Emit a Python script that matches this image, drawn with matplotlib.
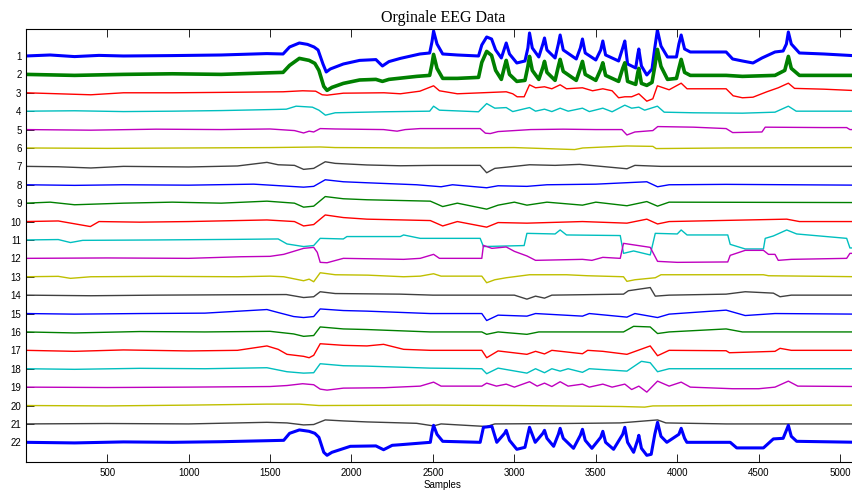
import numpy as np
import matplotlib
matplotlib.use("Agg")
import matplotlib.pyplot as plt

# 22 EEG channels, each given as (sample, amplitude) points.
# Amplitudes in uV, positive is up; channels are stacked SPACING apart.
SPACING = 92

ch01 = [(0, 0), (150, 5), (300, -3), (450, 3), (600, 0), (900, 2), (1200, 5), (1480, 12), (1580, 10),
        (1620, 45), (1680, 65), (1730, 58), (1770, 45), (1795, 30), (1825, -40), (1845, -80), (1870, -65),
        (1950, -40), (2050, -22), (2150, -18), (2190, -50), (2230, -28), (2300, -12), (2420, 10), (2480, 15),
        (2494, 70), (2504, 125), (2525, 60), (2560, 10), (2650, 5), (2780, 0), (2800, 55), (2830, 95),
        (2860, 85), (2885, 30), (2920, -10), (2940, 40), (2950, 65), (2970, 10), (3015, -35), (3065, -25),
        (3083, 40), (3093, 115), (3110, 40), (3150, -5), (3175, 60), (3185, 90), (3200, 30), (3250, -10),
        (3270, 60), (3281, 105), (3300, 30), (3380, -15), (3405, 40), (3418, 85), (3435, 15), (3500, -20),
        (3530, 30), (3543, 75), (3560, 5), (3640, -25), (3665, 40), (3678, 75), (3695, -40), (3745, -60),
        (3758, 10), (3764, 35), (3780, -50), (3813, -95), (3845, -65), (3862, 40), (3878, 130), (3900, 50),
        (3940, -5), (3995, -5), (4010, 60), (4024, 105), (4045, 35), (4080, 20), (4300, 20), (4340, -15),
        (4400, -25), (4465, -35), (4520, -10), (4600, 20), (4650, 25), (4670, 60), (4682, 120), (4700, 60),
        (4750, 15), (4900, 10), (5120, 0)]
ch02 = [(0, 0), (300, -5), (600, 0), (900, 3), (1200, 0), (1500, 8), (1580, 10), (1620, 45), (1680, 80),
        (1740, 70), (1775, 55), (1800, 20), (1830, -60), (1850, -80), (1880, -65), (1950, -45), (2050, -28),
        (2150, -25), (2190, -35), (2230, -25), (2400, -10), (2480, -5), (2494, 50), (2504, 100), (2525, 30),
        (2560, -20), (2650, -20), (2780, -15), (2800, 60), (2830, 115), (2860, 95), (2885, 20), (2920, -25),
        (2940, 40), (2950, 70), (2970, 0), (3015, -35), (3065, -30), (3083, 40), (3093, 90), (3110, 20),
        (3150, -25), (3175, 35), (3185, 65), (3200, 10), (3250, -30), (3270, 40), (3281, 75), (3300, 15),
        (3380, -30), (3405, 30), (3418, 65), (3435, 0), (3500, -30), (3530, 25), (3543, 58), (3560, -5),
        (3640, -35), (3665, 30), (3678, 58), (3695, -35), (3745, -50), (3758, 10), (3764, 30), (3780, -45),
        (3813, -55), (3845, -40), (3862, 40), (3878, 125), (3900, 40), (3940, -25), (3995, -20), (4010, 30),
        (4024, 75), (4045, 10), (4080, -5), (4300, -5), (4400, -10), (4600, -5), (4660, 20), (4682, 90),
        (4700, 30), (4750, -5), (5120, -5)]
ch03 = [(0, 0), (200, -5), (400, -10), (600, 0), (900, 0), (1200, 2), (1580, 5), (1700, 10), (1780, 8),
        (1820, -10), (1850, -12), (1950, -2), (2200, 0), (2300, -5), (2420, 8), (2504, 35), (2540, 10),
        (2650, -5), (2800, 0), (2950, 5), (2990, -5), (3017, -20), (3060, -20), (3093, 40), (3130, 25),
        (3185, 30), (3230, 20), (3281, 40), (3320, 20), (3418, 25), (3480, 10), (3543, 20), (3600, 10),
        (3640, -25), (3678, -20), (3720, -20), (3764, -5), (3813, -42), (3850, -30), (3878, 35), (3950, 15),
        (4024, 48), (4060, 20), (4300, 20), (4343, -15), (4400, -25), (4465, -22), (4550, 5), (4620, 25),
        (4682, 48), (4720, 22), (4900, 18), (5120, 10)]
ch04 = [(0, 0), (300, 2), (600, -2), (900, 0), (1200, 3), (1500, 8), (1600, 10), (1660, 25), (1760, 20),
        (1800, 5), (1840, -20), (1900, -8), (2200, -3), (2480, 0), (2504, 25), (2540, 5), (2780, -3),
        (2830, 38), (2880, 15), (2950, 18), (2990, -2), (3093, 18), (3130, 0), (3185, 10), (3230, -2),
        (3281, 15), (3330, 0), (3418, 15), (3460, -2), (3543, 15), (3600, -3), (3678, 30), (3720, 15),
        (3764, 20), (3800, 5), (3878, 25), (3920, -5), (4100, -8), (4400, -10), (4600, -5), (4682, 25),
        (4730, 0), (5120, 0)]
ch05 = [(0, 0), (400, -3), (800, 2), (1200, 0), (1500, 3), (1650, -5), (1706, -17), (1740, -8), (1768, -12),
        (1808, 5), (1900, 3), (2197, 0), (2280, -8), (2330, 0), (2422, 5), (2790, 5), (2822, -18), (2852, -20),
        (2900, -10), (3000, -5), (3100, 0), (3300, 2), (3500, 0), (3660, 0), (3691, -27), (3740, -12),
        (3850, -5), (3880, 15), (4100, 12), (4300, 5), (4340, -15), (4520, -12), (4540, 12), (4900, 10),
        (5040, 10), (5060, 0), (5120, 0)]
ch06 = [(0, 0), (500, -2), (1000, 0), (1500, 2), (1808, 5), (1900, 2), (2500, 0), (3000, 2), (3370, -8),
        (3420, 0), (3690, 10), (3850, 8), (3870, -3), (4300, 0), (5120, 2)]
ch07 = [(0, 0), (200, -2), (400, -8), (600, 0), (1000, -3), (1300, 2), (1481, 20), (1550, 8), (1650, 5),
        (1706, -15), (1768, -10), (1839, 23), (1900, 15), (2095, 7), (2300, 3), (2500, 5), (2790, 5),
        (2830, -32), (2880, -10), (3000, 0), (3093, 8), (3250, 5), (3400, 10), (3691, -12), (3740, 5),
        (3900, 0), (4300, 0), (5120, 0)]
ch08 = [(0, 0), (300, -3), (600, 0), (1000, -2), (1400, 3), (1706, -12), (1768, -8), (1839, 25), (1950, 15),
        (2095, 10), (2400, 0), (2550, -10), (2620, 0), (2830, -15), (2900, -5), (3077, -8), (3200, 0),
        (3500, 3), (3813, 15), (3879, -10), (3950, 0), (4300, 2), (5120, -2)]
ch09 = [(0, 0), (150, 5), (300, -8), (600, 0), (900, 5), (1200, 0), (1481, 10), (1650, 0), (1706, -20),
        (1768, -15), (1839, 33), (1950, 22), (2095, 17), (2484, 10), (2560, -17), (2650, 0), (2830, -30),
        (2900, -10), (3000, 5), (3077, -10), (3200, 5), (3418, -10), (3500, 5), (3691, -13), (3813, 8),
        (3879, -15), (3950, 5), (5120, 3)]
ch10 = [(0, 0), (200, 3), (397, -25), (450, 0), (700, -3), (1000, 0), (1481, 8), (1650, 0), (1706, -22),
        (1768, -15), (1839, 33), (1950, 20), (2095, 12), (2484, 5), (2560, -22), (2650, 0), (2830, -28),
        (2900, -5), (3077, -8), (3418, 0), (3691, -8), (3813, 12), (3879, -12), (3950, 0), (4672, 12),
        (4750, 0), (5120, 0)]
ch11 = [(0, 0), (200, 2), (275, -13), (350, -2), (800, 0), (1300, 3), (1550, 5), (1604, -20), (1706, -33),
        (1768, -28), (1808, 8), (1950, 5), (1972, 17), (2300, 17), (2320, 25), (2422, 8), (2790, 8),
        (2810, -33), (3060, -28), (3077, 33), (3250, 30), (3281, 50), (3320, 25), (3650, 22), (3670, -67),
        (3732, -55), (3834, -75), (3865, 33), (4000, 30), (4024, 50), (4060, 25), (4310, 25), (4325, -22),
        (4417, -45), (4529, -45), (4540, 8), (4590, 20), (4672, 50), (4733, 30), (5040, 8), (5060, -40),
        (5120, -40)]
ch12 = [(0, 0), (500, 2), (1000, 0), (1320, 8), (1500, 10), (1584, 20), (1706, 50), (1768, 55), (1790, 30),
        (1808, -20), (1850, -22), (1950, 0), (2320, -5), (2422, 0), (2504, 20), (2540, 0), (2800, 0),
        (2810, 65), (2862, 50), (2950, 57), (3000, 35), (3077, 12), (3130, -10), (3418, -5), (3476, -10),
        (3543, 5), (3650, 0), (3670, 75), (3834, 55), (3879, -15), (4000, -20), (4310, -18), (4325, 15),
        (4417, 40), (4529, 40), (4560, 20), (4600, 20), (4620, -10), (4700, -5), (5040, 0), (5060, 25),
        (5120, 25)]
ch13 = [(0, 0), (200, 2), (275, -8), (400, 0), (800, 2), (1300, 0), (1500, 3), (1584, 0), (1706, -20),
        (1740, -12), (1768, -25), (1808, 20), (1900, 10), (2100, 8), (2320, 0), (2422, 3), (2504, 15),
        (2550, 3), (2800, 3), (2830, -30), (2880, -15), (2950, -5), (3093, 10), (3320, 10), (3450, 5),
        (3670, 0), (3691, -23), (3740, -15), (3865, -5), (3900, 10), (4529, 10), (4560, 5), (5120, 0)]
ch14 = [(0, 0), (400, -3), (800, 0), (1300, 2), (1600, 3), (1706, -12), (1768, -8), (1808, 17), (1900, 8),
        (2300, 5), (2500, 0), (3000, 0), (3077, -20), (3130, -5), (3185, -15), (3230, 0), (3670, 5),
        (3700, 22), (3834, 38), (3865, -5), (3950, 0), (4300, 5), (4417, 17), (4590, 10), (4631, -8),
        (4700, 0), (5120, 0)]
ch15 = [(0, 0), (300, -3), (700, 0), (1100, 2), (1481, 20), (1550, 5), (1645, -15), (1706, -20),
        (1768, -15), (1808, 23), (1950, 15), (2095, 12), (2484, 0), (2800, 0), (2830, -35), (2900, -8),
        (3077, -13), (3130, 0), (3418, -13), (3460, 0), (3691, -18), (3740, 0), (3879, -20), (3950, -3),
        (4300, 17), (4417, -10), (4600, 0), (5120, -3)]
ch16 = [(0, 0), (300, -5), (700, 2), (1100, 0), (1500, 3), (1645, -10), (1706, -22), (1768, -18),
        (1808, 25), (1950, 15), (2095, 12), (2484, 0), (2800, 0), (2830, -12), (2900, 0), (3077, -12),
        (3150, 0), (3670, 0), (3732, 28), (3834, 25), (3879, -8), (3950, 0), (4300, 15), (4400, 0), (5120, 0)]
ch17 = [(0, 0), (300, -5), (600, 2), (1000, -3), (1300, 0), (1481, 22), (1550, 5), (1604, -20), (1706, -30),
        (1740, -37), (1768, -25), (1808, 33), (1950, 25), (2095, 22), (2197, 30), (2320, 5), (2484, 0),
        (2800, 0), (2830, -37), (2900, -3), (3077, -20), (3130, -5), (3185, -18), (3230, 0), (3418, -17),
        (3450, 0), (3543, -5), (3691, -20), (3834, 22), (3879, -27), (3950, 0), (4300, -2), (4320, -12),
        (4600, -5), (4631, 10), (4700, 0), (5120, 0)]
ch18 = [(0, 0), (300, -3), (700, 2), (1100, 0), (1481, 5), (1604, -15), (1706, -22), (1768, -20),
        (1808, 25), (1950, 15), (2095, 13), (2484, 3), (2800, 0), (2830, -25), (2900, 3), (3077, -22),
        (3130, 0), (3185, -20), (3230, 0), (3281, -12), (3330, 0), (3418, -18), (3460, 0), (3691, -12),
        (3780, 37), (3834, 30), (3879, -15), (3950, 0), (4300, 0), (5120, 0)]
ch19 = [(0, 0), (500, -2), (1000, 0), (1500, 3), (1604, 8), (1700, 17), (1768, 12), (1808, -10),
        (1850, -15), (1950, -5), (2200, -3), (2422, 5), (2504, 25), (2550, 5), (2800, 5), (2830, 20),
        (2890, 5), (2950, 15), (3000, 0), (3093, 27), (3140, 5), (3185, 20), (3230, 3), (3281, 27),
        (3330, 5), (3418, 15), (3460, 0), (3543, 15), (3600, 0), (3678, 15), (3720, -12), (3764, 5),
        (3813, -25), (3879, 30), (3950, 5), (4024, 25), (4080, 0), (4340, -8), (4500, -8), (4600, 0),
        (4682, 30), (4740, 5), (5120, 3)]
ch20 = [(0, 0), (500, -2), (1000, 2), (1481, 7), (1680, 7), (1800, 0), (2500, 2), (3000, 0), (3660, -5),
        (3800, -8), (3850, -2), (4300, 0), (5120, 2)]
ch21 = [(0, 0), (500, 2), (1000, 0), (1481, 8), (1604, 5), (1706, -5), (1768, -3), (1839, 20), (1950, 15),
        (2095, 10), (2400, 3), (2504, -10), (2550, 0), (2830, -13), (2880, 0), (3300, 2), (3650, 5),
        (3879, 20), (3930, 5), (4300, 0), (5120, 0)]
ch22 = [(0, 0), (300, -3), (600, 2), (900, 0), (1200, 3), (1480, 8), (1584, 10), (1620, 45), (1680, 62),
        (1740, 55), (1775, 45), (1800, 25), (1830, -50), (1850, -65), (1880, -50), (1993, -20), (2150, -18),
        (2197, -37), (2250, -15), (2300, -12), (2484, 0), (2494, 50), (2504, 85), (2525, 40), (2560, 5),
        (2790, 0), (2810, 75), (2862, 80), (2892, 0), (2940, 45), (2950, 60), (2970, 10), (3015, -35),
        (3065, -25), (3083, 40), (3093, 75), (3128, 0), (3175, 45), (3185, 60), (3200, 20), (3241, -20),
        (3270, 40), (3281, 70), (3300, 20), (3363, -30), (3405, 35), (3418, 65), (3435, 10), (3476, -30),
        (3530, 25), (3543, 55), (3560, 0), (3609, -35), (3665, 40), (3678, 75), (3695, 0), (3732, -50),
        (3758, 15), (3764, 35), (3780, -30), (3813, -65), (3840, -60), (3862, 40), (3879, 100), (3900, 30),
        (3936, 0), (4010, 40), (4024, 70), (4045, 20), (4059, 0), (4325, 0), (4365, -28), (4529, -28),
        (4590, 17), (4650, 20), (4670, 60), (4682, 85), (4700, 30), (4733, 5), (5120, 0)]

channels = [ch01, ch02, ch03, ch04, ch05, ch06, ch07, ch08, ch09, ch10, ch11,
            ch12, ch13, ch14, ch15, ch16, ch17, ch18, ch19, ch20, ch21, ch22]
channel_labels = [str(i) for i in range(1, 23)]
xtick_values = [500, 1000, 1500, 2000, 2500, 3000, 3500, 4000, 4500, 5000]

# old MATLAB line colour order
colors = [(0, 0, 1), (0, 0.5, 0), (1, 0, 0), (0, 0.75, 0.75),
          (0.75, 0, 0.75), (0.75, 0.75, 0), (0.25, 0.25, 0.25)]
# noisier channels get a heavier stroke
widths = {0: 2.2, 1: 2.6, 21: 2.2}

fig = plt.figure(figsize=(8.52, 4.90), dpi=100)
ax = fig.add_axes([25.7 / 852, 28 / 490, 834 / 852, 433 / 490])

for i, pts in enumerate(channels):
    s, v = np.array(pts, dtype=float).T
    ax.plot(s, v - (i + 1) * SPACING, color=colors[i % len(colors)],
            lw=widths.get(i, 1.0), solid_joinstyle="round")

ax.set_xlim(0, 5120)
ax.set_ylim(-23.07 * SPACING, 0.467 * SPACING)
ax.set_xticks(xtick_values)
ax.set_xticklabels([str(t) for t in xtick_values], fontsize=7, family="Liberation Sans")
ax.set_yticks([-(i + 1) * SPACING for i in range(22)])
ax.set_yticklabels(channel_labels, fontsize=7, family="Liberation Sans")
ax.tick_params(direction="in", length=5.8, width=0.6, top=True, right=True, pad=4)
ax.tick_params(axis="y", pad=3)
for sp in ax.spines.values():
    sp.set_linewidth(0.8)

ax.set_title("Orginale EEG Data", fontsize=11.5, family="Liberation Serif", pad=5)
ax.set_xlabel("Samples", fontsize=7, family="Liberation Sans", labelpad=2)

fig.savefig("out.png", dpi=100)
